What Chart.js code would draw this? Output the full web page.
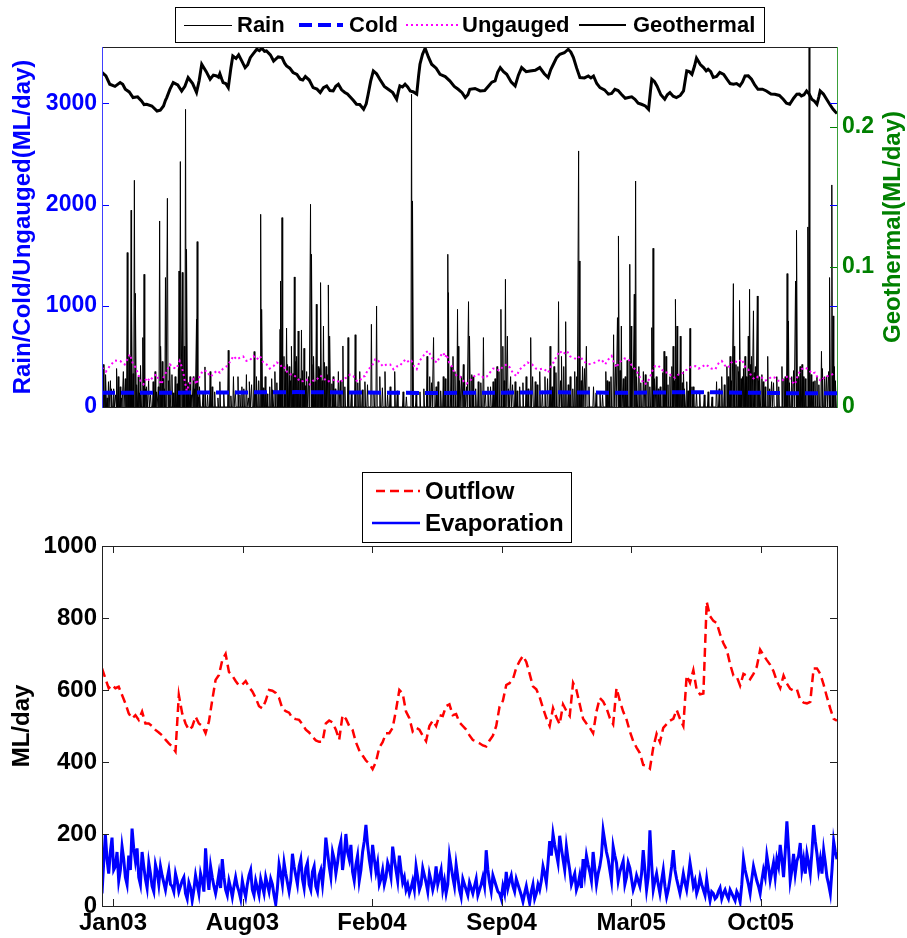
<!DOCTYPE html>
<html>
<head>
<meta charset="utf-8">
<script src="https://cdn.jsdelivr.net/npm/chart.js@4.4.1/dist/chart.umd.min.js"></script>
<style>
  html, body { margin: 0; padding: 0; background: #fff; }
  #wrap { position: relative; width: 907px; height: 938px; }
  canvas { position: absolute; left: 0; }
  #flows { top: 0; }
  #losses { top: 450px; }
</style>
</head>
<body>
<div id="wrap">
  <canvas id="flows" width="907" height="450"></canvas>
  <canvas id="losses" width="907" height="488"></canvas>
</div>
<script>
'use strict';

// Daily water balance, Jan 2003 - Feb 2006. x is days since 1 Jan 2003.
const DAY_SPAN = 1135;
const TICK_DAYS   = [17, 217, 417, 617, 817, 1017];
const TICK_LABELS = ['Jan03', 'Aug03', 'Feb04', 'Sep04', 'Mar05', 'Oct05'];
const FLOW_TICKS  = [0, 1000, 2000, 3000];
const GEO_TICKS   = [0, 0.1, 0.2];
const LOSS_TICKS  = [0, 200, 400, 600, 800, 1000];

const FONT  = "'Liberation Sans', Arial, Helvetica, sans-serif";
const BLUE  = '#0000ff', GREEN = '#008000', MAGENTA = '#ff00ff', RED = '#ff0000';

// ── Inflows (top panel) ─────────────────────────────────────────────────
// rain: storm days and their runoff (ML/day)
const rainDay = [
  2, 10, 18, 25, 33, 39, 42, 45, 46, 50, 52, 56, 63, 65, 69, 79, 84, 89, 91, 95,
  98, 101, 105, 113, 119, 121, 124, 127, 129, 131, 136, 146, 147, 151, 159, 167, 174, 182, 195, 203,
  210, 216, 223, 228, 235, 239, 245, 247, 252, 259, 267, 275, 276, 278, 281, 285, 289, 293, 297, 301,
  303, 308, 312, 316, 322, 324, 327, 331, 334, 338, 342, 346, 350, 352, 357, 365, 372, 380, 391, 398,
  406, 416, 424, 429, 437, 445, 452, 465, 478, 480, 491, 502, 506, 512, 519, 527, 534, 535, 539, 542,
  549, 550, 555, 560, 566, 568, 573, 581, 589, 596, 604, 610, 616, 619, 623, 626, 631, 638, 645, 655,
  662, 669, 676, 684, 692, 698, 705, 710, 716, 723, 730, 736, 737, 742, 748, 759, 769, 778, 783, 790,
  796, 798, 802, 808, 815, 817, 822, 824, 829, 836, 843, 849, 851, 856, 862, 868, 871, 877, 882, 886,
  888, 893, 898, 903, 908, 913, 923, 936, 949, 957, 965, 970, 975, 976, 982, 985, 989, 993, 998, 1000,
  1003, 1006, 1009, 1012, 1016, 1021, 1028, 1034, 1042, 1050, 1055, 1058, 1060, 1065, 1071, 1073, 1078, 1083, 1090, 1092,
  1098, 1104, 1111, 1116, 1124, 1127, 1129, 1131
];
const rainFlow = [
  420, 250, 180, 300, 350, 1526, 500, 1944, 982, 2240, 1123, 300, 686, 1311, 200, 250, 150, 1838, 600, 300,
  1279, 2062, 400, 300, 1344, 2425, 1330, 600, 2941, 1558, 300, 867, 1634, 200, 396, 350, 150, 250, 560, 300,
  300, 200, 320, 250, 548, 300, 1904, 965, 300, 200, 350, 768, 1245, 1871, 500, 780, 400, 600, 1285, 500,
  751, 761, 580, 350, 2003, 1509, 500, 1015, 400, 1229, 800, 400, 1206, 700, 300, 350, 603, 686, 714, 350,
  250, 817, 998, 300, 350, 200, 350, 150, 3090, 2036, 150, 500, 300, 686, 250, 300, 1509, 1130, 400, 500,
  965, 600, 300, 250, 1041, 700, 300, 250, 686, 200, 250, 400, 965, 600, 1262, 700, 300, 250, 200, 300,
  686, 250, 350, 300, 600, 400, 1041, 500, 843, 300, 350, 2530, 1443, 400, 600, 200, 150, 350, 250, 714,
  883, 1690, 800, 300, 1410, 800, 1114, 2233, 400, 350, 250, 784, 1568, 300, 200, 550, 500, 300, 600, 1064,
  800, 700, 350, 250, 777, 200, 150, 150, 250, 300, 400, 500, 1219, 600, 400, 1054, 300, 500, 700, 1163,
  500, 950, 400, 1097, 300, 250, 500, 250, 300, 400, 300, 1318, 850, 300, 1245, 1746, 400, 300, 1779, 3900,
  250, 300, 550, 300, 1279, 2194, 900, 400
];
// lighter rain days filling the base of the record
const showerDay = [
  4, 6, 8, 13, 15, 21, 23, 28, 30, 36, 41, 48, 54, 58, 60, 67, 72, 75, 82, 87,
  93, 97, 103, 108, 110, 116, 118, 126, 133, 138, 141, 143, 149, 156, 163, 170, 179, 188, 199, 206,
  213, 219, 226, 231, 237, 242, 249, 255, 262, 264, 270, 272, 283, 287, 291, 295, 299, 306, 310, 314,
  319, 326, 329, 336, 340, 344, 348, 355, 360, 368, 375, 385, 395, 402, 410, 420, 433, 441, 456, 470,
  485, 497, 509, 516, 523, 530, 545, 552, 558, 563, 571, 577, 585, 592, 600, 607, 613, 621, 628, 634,
  641, 650, 658, 665, 672, 680, 688, 695, 701, 708, 713, 720, 727, 733, 740, 745, 752, 763, 773, 780,
  786, 793, 800, 805, 811, 819, 826, 832, 839, 846, 853, 859, 866, 874, 880, 884, 890, 896, 900, 905,
  911, 918, 930, 942, 953, 961, 967, 972, 979, 983, 987, 991, 995, 1002, 1007, 1014, 1019, 1024, 1031, 1037,
  1045, 1053, 1062, 1068, 1075, 1081, 1086, 1095, 1101, 1107, 1113, 1119, 1122, 1133
];
const showerFlow = [
  150, 320, 90, 260, 180, 120, 380, 200, 90, 280, 160, 330, 220, 140, 410, 180, 260, 120, 350, 200,
  450, 180, 260, 320, 140, 230, 380, 170, 240, 120, 300, 180, 100, 150, 120, 200, 90, 140, 110, 160,
  120, 180, 90, 220, 140, 260, 190, 130, 280, 170, 240, 150, 350, 420, 260, 330, 450, 280, 360, 210,
  300, 420, 250, 380, 260, 440, 320, 230, 180, 260, 200, 150, 240, 170, 220, 130, 190, 120, 160, 100,
  120, 180, 240, 200, 160, 280, 350, 260, 420, 200, 320, 180, 240, 150, 200, 280, 350, 260, 180, 220,
  160, 240, 180, 300, 220, 160, 280, 200, 340, 260, 400, 220, 180, 300, 260, 380, 200, 140, 120, 260,
  300, 420, 360, 280, 460, 380, 300, 240, 320, 200, 280, 180, 340, 220, 400, 260, 320, 240, 180, 160,
  200, 140, 120, 100, 180, 220, 300, 260, 420, 350, 280, 380, 300, 420, 340, 260, 320, 200, 180, 240,
  200, 280, 240, 360, 300, 420, 280, 320, 260, 220, 380, 300, 350, 260
];

const coldDay  = [0, 50, 100, 150, 200, 250, 300, 350, 400, 450, 500, 550, 600, 650, 700, 750, 800, 850, 900, 950, 1000, 1050, 1100, 1135];
const coldFlow = [142, 140, 141, 143, 142, 146, 147, 145, 143, 141, 139, 140, 141, 143, 145, 143, 141, 143, 146, 145, 141, 137, 136, 136];

const ungDay = [
  0, 12, 28, 43, 48, 56, 64, 74, 84, 92, 100, 110, 120, 126, 131, 138, 146, 151, 162, 172,
  182, 193, 203, 213, 223, 234, 244, 254, 265, 275, 283, 290, 301, 311, 321, 332, 342, 352, 368, 378,
  388, 398, 406, 414, 422, 429, 440, 450, 460, 470, 478, 486, 496, 504, 517, 527, 532, 540, 548, 558,
  568, 579, 589, 599, 609, 620, 630, 640, 651, 664, 676, 689, 697, 707, 718, 728, 738, 751, 766, 777,
  787, 795, 802, 813, 823, 831, 838, 846, 854, 864, 875, 885, 895, 905, 916, 926, 936, 947, 957, 967,
  977, 988, 998, 1008, 1019, 1029, 1039, 1050, 1060, 1070, 1080, 1091, 1101, 1111, 1122, 1132
];
const ungauged = [
  389, 405, 455, 521, 422, 323, 224, 257, 323, 224, 356, 389, 455, 323, 158, 257, 224, 306, 356, 323,
  340, 405, 504, 488, 455, 504, 504, 422, 405, 422, 389, 323, 290, 257, 224, 274, 290, 257, 240, 290,
  306, 257, 306, 389, 472, 438, 422, 373, 405, 472, 455, 373, 504, 554, 438, 537, 521, 405, 306, 257,
  257, 323, 290, 340, 373, 405, 389, 306, 405, 422, 373, 340, 438, 554, 554, 488, 504, 422, 455, 422,
  504, 389, 455, 472, 373, 290, 224, 290, 405, 373, 340, 290, 323, 373, 405, 389, 405, 373, 455, 389,
  455, 472, 373, 274, 290, 274, 290, 257, 306, 224, 373, 373, 340, 257, 306, 340
];
// in-between ungauged readings (the record jumps day to day)
const ungDayB = [
  6, 20, 35, 45, 52, 60, 69, 79, 88, 96, 105, 115, 123, 128, 134, 142, 148, 156, 167, 177,
  187, 198, 208, 218, 228, 239, 249, 259, 270, 279, 286, 295, 306, 316, 326, 337, 347, 360, 373, 383,
  393, 402, 410, 418, 425, 434, 445, 455, 465, 474, 482, 491, 500, 510, 522, 530, 536, 544, 553, 563,
  574, 584, 594, 604, 614, 625, 635, 645, 657, 670, 682, 693, 702, 712, 723, 733, 744, 758, 771, 782,
  791, 798, 807, 818, 827, 834, 842, 850, 859, 869, 880, 890, 900, 910, 921, 931, 941, 952, 962, 972,
  982, 993, 1003, 1013, 1024, 1034, 1044, 1055, 1065, 1075, 1085, 1096, 1106, 1116, 1127
];
const ungaugedB = [
  350, 460, 420, 480, 390, 250, 290, 300, 260, 310, 420, 380, 400, 250, 220, 280, 270, 360, 300, 360,
  380, 450, 470, 500, 460, 470, 440, 380, 440, 380, 340, 320, 250, 270, 260, 310, 250, 270, 280, 320,
  260, 300, 360, 420, 470, 400, 420, 400, 450, 440, 400, 460, 540, 480, 500, 490, 440, 340, 300, 230,
  300, 320, 300, 380, 360, 420, 330, 370, 440, 380, 380, 400, 500, 520, 500, 470, 450, 430, 470, 470,
  430, 440, 480, 410, 340, 260, 240, 360, 410, 340, 300, 320, 360, 400, 380, 420, 380, 430, 410, 440,
  440, 400, 300, 300, 260, 300, 260, 290, 250, 320, 390, 330, 280, 300, 320
];

const geoDay = [
  0, 12, 28, 36, 48, 61, 69, 85, 95, 100, 110, 123, 133, 146, 154, 167, 177, 182, 187, 195,
  202, 211, 221, 229, 239, 247, 254, 265, 278, 285, 295, 306, 314, 326, 337, 347, 357, 365, 375, 383,
  393, 404, 411, 419, 429, 442, 455, 460, 468, 476, 486, 491, 499, 509, 522, 537, 550, 561, 568, 584,
  597, 607, 615, 625, 638, 648, 661, 676, 689, 697, 707, 720, 728, 738, 751, 759, 769, 782, 792, 802,
  813, 823, 833, 844, 849, 857, 869, 877, 887, 898, 903, 911, 918, 929, 936, 944, 954, 965, 975, 985,
  993, 1003, 1013, 1026, 1039, 1052, 1062, 1073, 1080, 1088, 1096, 1104, 1109, 1119, 1129, 1135
];
const geothermal = [
  0.2389, 0.2305, 0.2317, 0.2269, 0.2210, 0.2186, 0.2162, 0.2114, 0.2150, 0.2210, 0.2317, 0.2257, 0.2353, 0.2246, 0.2448, 0.2341, 0.2364, 0.2380, 0.2317, 0.2281,
  0.2507, 0.2515, 0.2424, 0.2495, 0.2555, 0.2562, 0.2543, 0.2471, 0.2495, 0.2436, 0.2389, 0.2341, 0.2360, 0.2281, 0.2246, 0.2293, 0.2257, 0.2305, 0.2246, 0.2215,
  0.2162, 0.2126, 0.2234, 0.2400, 0.2341, 0.2269, 0.2198, 0.2293, 0.2305, 0.2257, 0.2234, 0.2448, 0.2562, 0.2448, 0.2376, 0.2329, 0.2269, 0.2210, 0.2269, 0.2257,
  0.2293, 0.2329, 0.2424, 0.2376, 0.2293, 0.2424, 0.2400, 0.2424, 0.2353, 0.2448, 0.2519, 0.2555, 0.2495, 0.2353, 0.2364, 0.2364, 0.2281, 0.2234, 0.2269, 0.2234,
  0.2210, 0.2198, 0.2162, 0.2126, 0.2341, 0.2293, 0.2198, 0.2246, 0.2210, 0.2257, 0.2400, 0.2376, 0.2491, 0.2424, 0.2412, 0.2353, 0.2389, 0.2341, 0.2305, 0.2293,
  0.2364, 0.2341, 0.2269, 0.2257, 0.2234, 0.2198, 0.2162, 0.2234, 0.2222, 0.2257, 0.2198, 0.2162, 0.2257, 0.2198, 0.2126, 0.2096
];
// in-between geothermal readings
const geoDayB = [
  6, 20, 32, 42, 55, 65, 77, 90, 98, 105, 117, 128, 140, 150, 161, 172, 180, 185, 191, 199,
  207, 216, 225, 234, 243, 251, 260, 272, 282, 290, 301, 310, 320, 332, 342, 352, 361, 370, 379, 388,
  398, 408, 415, 424, 436, 449, 458, 464, 472, 481, 489, 495, 504, 516, 530, 544, 556, 565, 576, 591,
  602, 611, 620, 632, 643, 655, 669, 683, 693, 702, 714, 724, 733, 745, 755, 764, 776, 787, 797, 808,
  818, 828, 839, 847, 853, 863, 873, 882, 893, 901, 907, 915, 924, 933, 940, 949, 960, 970, 980, 989,
  998, 1008, 1020, 1033, 1046, 1057, 1068, 1077, 1084, 1092, 1100, 1107, 1114, 1124, 1132
];
const geothermalB = [
  0.2365, 0.2290, 0.2305, 0.2250, 0.2215, 0.2160, 0.2150, 0.2120, 0.2190, 0.2270, 0.2300, 0.2290, 0.2310, 0.2330, 0.2395, 0.2370, 0.2355, 0.2340, 0.2310, 0.2420,
  0.2490, 0.2470, 0.2445, 0.2525, 0.2545, 0.2540, 0.2515, 0.2500, 0.2455, 0.2420, 0.2375, 0.2335, 0.2335, 0.2270, 0.2280, 0.2260, 0.2290, 0.2265, 0.2235, 0.2190,
  0.2160, 0.2165, 0.2330, 0.2380, 0.2290, 0.2245, 0.2260, 0.2285, 0.2285, 0.2250, 0.2370, 0.2520, 0.2500, 0.2420, 0.2360, 0.2290, 0.2245, 0.2230, 0.2275, 0.2260,
  0.2320, 0.2390, 0.2395, 0.2320, 0.2370, 0.2395, 0.2405, 0.2380, 0.2410, 0.2495, 0.2530, 0.2535, 0.2420, 0.2350, 0.2350, 0.2310, 0.2265, 0.2240, 0.2260, 0.2205,
  0.2215, 0.2170, 0.2150, 0.2260, 0.2325, 0.2230, 0.2230, 0.2220, 0.2225, 0.2345, 0.2395, 0.2435, 0.2445, 0.2400, 0.2395, 0.2360, 0.2375, 0.2310, 0.2310, 0.2320,
  0.2365, 0.2300, 0.2270, 0.2235, 0.2225, 0.2170, 0.2205, 0.2235, 0.2230, 0.2235, 0.2185, 0.2215, 0.2235, 0.2160, 0.2110
];

// ── Losses (bottom panel) ───────────────────────────────────────────────
// outflow sampled every ~5.2 days
const outflow = [
  660, 632, 605, 614, 605, 609, 586, 563, 535, 521,
  530, 517, 540, 507, 507, 500, 489, 482, 474, 462,
  452, 443, 429, 586, 535, 507, 489, 498, 526, 507,
  500, 480, 512, 572, 628, 642, 683, 700, 650, 640,
  625, 612, 615, 625, 608, 596, 578, 555, 549, 570,
  600, 598, 592, 578, 548, 541, 537, 522, 519, 517,
  505, 490, 482, 470, 460, 456, 456, 507, 515, 510,
  490, 462, 530, 520, 500, 489, 455, 432, 418, 404,
  395, 380, 400, 440, 455, 480, 480, 495, 544, 600,
  590, 540, 522, 485, 495, 490, 473, 458, 500, 515,
  500, 530, 528, 555, 560, 530, 533, 510, 500, 490,
  474, 461, 457, 452, 446, 443, 460, 473, 500, 554,
  570, 614, 619, 630, 662, 680, 695, 678, 645, 610,
  602, 580, 550, 522, 500, 550, 524, 505, 560, 542,
  528, 620, 600, 560, 520, 507, 495, 480, 540, 578,
  568, 550, 522, 505, 605, 570, 540, 518, 485, 458,
  440, 425, 392, 390, 382, 440, 478, 455, 495, 505,
  515, 520, 545, 520, 500, 640, 620, 655, 600, 588,
  590, 845, 805, 792, 786, 755, 730, 712, 672, 640,
  637, 612, 645, 640, 630, 645, 665, 712, 697, 683,
  670, 652, 625, 605, 640, 618, 603, 598, 602, 572,
  565, 563, 567, 660, 660, 645, 615, 580, 548, 520, 515
];
// evaporation sampled every ~2.6 days
const evaporation = [
  35, 120, 200, 130, 90, 150, 190, 100, 110, 150, 70, 100, 165, 130, 80, 60, 140, 100, 215, 160,
  125, 160, 80, 60, 150, 110, 75, 50, 120, 90, 55, 40, 115, 95, 60, 110, 85, 65, 45, 75,
  100, 60, 55, 40, 90, 70, 40, 55, 70, 80, 35, 20, 65, 50, 15, 45, 85, 60, 35, 90,
  70, 40, 160, 90, 45, 110, 80, 55, 35, 60, 90, 50, 130, 80, 45, 30, 70, 50, 25, 55,
  80, 55, 40, 20, 70, 45, 25, 60, 85, 100, 45, 30, 70, 50, 30, 75, 55, 35, 80, 60,
  40, 75, 60, 30, 5, 50, 115, 90, 60, 120, 90, 65, 40, 70, 145, 110, 85, 60, 110, 130,
  75, 50, 105, 120, 60, 45, 95, 110, 55, 40, 85, 100, 60, 110, 190, 150, 110, 80, 150, 130,
  90, 120, 160, 180, 100, 140, 200, 150, 130, 170, 95, 70, 115, 140, 70, 100, 150, 180, 225, 170,
  130, 100, 170, 130, 95, 120, 60, 75, 100, 60, 80, 120, 105, 80, 165, 130, 100, 70, 140, 100,
  65, 80, 45, 60, 35, 50, 70, 45, 110, 80, 45, 60, 105, 85, 65, 40, 90, 70, 45, 65,
  110, 60, 80, 100, 45, 70, 35, 60, 140, 110, 80, 55, 115, 80, 45, 25, 75, 60, 45, 30,
  65, 50, 35, 55, 75, 30, 45, 60, 80, 55, 155, 100, 65, 40, 85, 70, 55, 40, 35, 20,
  55, 35, 95, 50, 70, 85, 55, 40, 75, 60, 45, 30, 12, 35, 55, 30, 8, 40, 60, 20,
  35, 60, 45, 70, 110, 90, 65, 120, 180, 140, 200, 170, 145, 120, 195, 160, 130, 100, 165, 130,
  100, 60, 75, 90, 45, 60, 85, 50, 130, 90, 140, 115, 95, 70, 150, 105, 60, 90, 110, 140,
  210, 180, 150, 130, 100, 70, 165, 140, 120, 70, 95, 110, 125, 60, 80, 120, 105, 75, 45, 60,
  85, 70, 55, 90, 155, 100, 45, 80, 210, 120, 45, 70, 90, 60, 35, 70, 100, 55, 25, 45,
  75, 110, 155, 100, 75, 55, 35, 60, 90, 65, 45, 80, 120, 90, 55, 70, 35, 50, 80, 60,
  45, 30, 75, 40, 15, 40, 35, 20, 25, 40, 50, 20, 35, 45, 30, 20, 45, 35, 25, 15,
  40, 30, 12, 60, 130, 100, 80, 60, 35, 75, 110, 90, 70, 55, 35, 70, 100, 80, 140, 110,
  70, 95, 120, 80, 130, 110, 170, 130, 80, 150, 235, 160, 70, 100, 145, 90, 125, 140, 175, 100,
  130, 90, 145, 120, 90, 150, 225, 180, 145, 100, 130, 90, 155, 120, 80, 60, 35, 100, 180, 150, 130
];

// ── helpers ─────────────────────────────────────────────────────────────
const pairs  = (xs, ys) => xs.map((x, i) => ({x, y: ys[i]}));
const merged = (...sets) => [].concat(...sets).sort((a, b) => a.x - b.x);
const evenly = ys => ys.map((y, i) => ({x: i * DAY_SPAN / (ys.length - 1), y}));
// each wet day drawn as a one-day rise and fall back to zero
const spikes = pts => pts.flatMap(p => [{x: p.x - 1, y: 0}, p, {x: p.x + 1, y: 0}]);
const bold   = size => ({family: FONT, size, weight: 'bold'});
const fixedTicks = values => s => { s.ticks = values.map(value => ({value})); };
const noGrid = {display: false, drawTicks: false};

const line = (label, data, color, width, extra) => Object.assign({
  label, data, borderColor: color, backgroundColor: color, borderWidth: width,
  pointRadius: 0, tension: 0, fill: false,
}, extra || {});

function drawLegend(ctx, box, items, size) {
  ctx.save();
  ctx.fillStyle = '#fff';
  ctx.fillRect(box.x, box.y, box.w, box.h);
  ctx.strokeStyle = '#000';
  ctx.lineWidth = 1;
  ctx.strokeRect(box.x + 0.5, box.y + 0.5, box.w, box.h);
  ctx.font = 'bold ' + size + 'px ' + FONT;
  ctx.textBaseline = 'middle';
  for (const it of items) {
    ctx.beginPath();
    ctx.setLineDash(it.dash || []);
    ctx.strokeStyle = it.color;
    ctx.lineWidth = it.width;
    ctx.moveTo(it.x0, it.y);
    ctx.lineTo(it.x1, it.y);
    ctx.stroke();
    ctx.setLineDash([]);
    ctx.fillStyle = '#000';
    ctx.fillText(it.label, it.tx, it.ty);
  }
  ctx.restore();
}

// short inward tick marks
function innerYTicks(ctx, scale, area, color, sides) {
  ctx.strokeStyle = color;
  ctx.lineWidth = 1;
  for (const t of scale.ticks) {
    const py = Math.round(scale.getPixelForValue(t.value)) + 0.5;
    ctx.beginPath();
    if (sides.includes('left'))  { ctx.moveTo(area.left, py);  ctx.lineTo(area.left + 7, py); }
    if (sides.includes('right')) { ctx.moveTo(area.right - 7, py); ctx.lineTo(area.right, py); }
    ctx.stroke();
  }
}

function innerXTicks(ctx, scale, area, color) {
  ctx.strokeStyle = color;
  ctx.lineWidth = 1;
  for (const t of scale.ticks) {
    const px = Math.round(scale.getPixelForValue(t.value)) + 0.5;
    ctx.beginPath();
    ctx.moveTo(px, area.top); ctx.lineTo(px, area.top + 7);
    ctx.moveTo(px, area.bottom - 7); ctx.lineTo(px, area.bottom);
    ctx.stroke();
  }
}

function hLine(ctx, x0, x1, y, color) {
  ctx.strokeStyle = color; ctx.beginPath();
  ctx.moveTo(x0, Math.round(y) + 0.5); ctx.lineTo(x1, Math.round(y) + 0.5); ctx.stroke();
}
function vLine(ctx, x, y0, y1, color) {
  ctx.strokeStyle = color; ctx.beginPath();
  ctx.moveTo(Math.round(x) + 0.5, y0); ctx.lineTo(Math.round(x) + 0.5, y1); ctx.stroke();
}

const xDays = (display, height) => ({
  type: 'linear', min: 0, max: DAY_SPAN, display,
  grid: noGrid, border: {display: false},
  afterBuildTicks: fixedTicks(TICK_DAYS),
  ticks: {
    color: '#000', font: bold(24), padding: 3, maxRotation: 0, autoSkip: false,
    callback: v => TICK_LABELS[TICK_DAYS.indexOf(v)],
  },
  afterFit: s => { s.height = height; },
});

const common = {
  responsive: false,
  animation: false,
  devicePixelRatio: 1,
  events: [],
};

// ── Top: inflows with geothermal on its own axis ────────────────────────
const flowsFrame = {
  id: 'flowsFrame',
  afterDraw(chart) {
    const {ctx, chartArea: a, scales} = chart;
    ctx.save();
    ctx.lineWidth = 1;
    innerYTicks(ctx, scales.y, a, BLUE, ['left', 'right']);
    innerYTicks(ctx, scales.y1, a, GREEN, ['right']);
    hLine(ctx, a.left, a.right + 1, a.top, '#222');
    hLine(ctx, a.left, a.right + 1, a.bottom, '#222');
    vLine(ctx, a.left, a.top, a.bottom + 1, '#4040ff');
    vLine(ctx, a.right, a.top, a.bottom + 1, '#3aa03a');

    // right-hand title reads bottom to top
    ctx.save();
    ctx.translate(893, (a.top + a.bottom) / 2);
    ctx.rotate(-Math.PI / 2);
    ctx.font = 'bold 24px ' + FONT;
    ctx.fillStyle = GREEN;
    ctx.textAlign = 'center';
    ctx.textBaseline = 'middle';
    ctx.fillText('Geothermal(ML/day)', 0, 0);
    ctx.restore();

    const ds = chart.data.datasets;
    drawLegend(ctx, {x: 175, y: 7, w: 589, h: 35}, [
      {label: ds[0].label, color: '#000',  width: 1, x0: 184, x1: 232, tx: 237, y: 25.5, ty: 26},
      {label: ds[1].label, color: BLUE,    width: 4, dash: [13, 6], x0: 299, x1: 343, tx: 349, y: 25, ty: 26},
      {label: ds[2].label, color: MAGENTA, width: 2, dash: [2, 3], x0: 406, x1: 458, tx: 462, y: 25, ty: 26},
      {label: ds[3].label, color: '#000',  width: 2, x0: 579, x1: 626, tx: 633, y: 25, ty: 26},
    ], 22);
    ctx.restore();
  },
};

new Chart(document.getElementById('flows'), {
  type: 'line',
  data: {
    datasets: [
      line('Rain', spikes(merged(pairs(rainDay, rainFlow), pairs(showerDay, showerFlow))), '#000', 1, {yAxisID: 'y', order: 4}),
      line('Cold', pairs(coldDay, coldFlow), BLUE, 4, {yAxisID: 'y', order: 2, borderDash: [13, 6]}),
      line('Ungauged', merged(pairs(ungDay, ungauged), pairs(ungDayB, ungaugedB)), MAGENTA, 2, {yAxisID: 'y', order: 3, borderDash: [2, 3]}),
      line('Geothermal', merged(pairs(geoDay, geothermal), pairs(geoDayB, geothermalB)), '#000', 3, {yAxisID: 'y1', order: 1}),
    ],
  },
  options: Object.assign({}, common, {
    layout: {padding: {top: 47, bottom: 0, left: 0, right: 0}},
    plugins: {legend: {display: false}, tooltip: {enabled: false}},
    scales: {
      x: xDays(false, 43),
      y: {
        position: 'left', min: 0, max: 3557,
        grid: noGrid, border: {display: false},
        afterBuildTicks: fixedTicks(FLOW_TICKS),
        ticks: {color: BLUE, font: bold(23), padding: 5, callback: v => String(v)},
        title: {display: true, text: 'Rain/Cold/Ungauged(ML/day)', color: BLUE, font: bold(24), padding: {top: 9, bottom: 0}},
        afterFit: s => { s.width = 102; },
      },
      y1: {
        position: 'right', min: 0, max: 0.2571,
        grid: noGrid, border: {display: false},
        afterBuildTicks: fixedTicks(GEO_TICKS),
        ticks: {color: GREEN, font: bold(23), padding: 5, callback: v => String(v)},
        afterFit: s => { s.width = 70; },
      },
    },
  }),
  plugins: [flowsFrame],
});

// ── Bottom: outflow and evaporation ─────────────────────────────────────
const lossesFrame = {
  id: 'lossesFrame',
  afterDraw(chart) {
    const {ctx, chartArea: a, scales} = chart;
    ctx.save();
    ctx.lineWidth = 1;
    innerYTicks(ctx, scales.y, a, '#222', ['left', 'right']);
    innerXTicks(ctx, scales.x, a, '#222');
    hLine(ctx, a.left, a.right + 1, a.top, '#222');
    hLine(ctx, a.left, a.right + 1, a.bottom, '#222');
    vLine(ctx, a.left, a.top, a.bottom + 1, '#222');
    vLine(ctx, a.right, a.top, a.bottom + 1, '#222');

    const ds = chart.data.datasets;
    drawLegend(ctx, {x: 362, y: 22, w: 209, h: 70}, [
      {label: ds[0].label, color: RED,  width: 2.5, dash: [9, 5], x0: 376, x1: 420, tx: 425, y: 41, ty: 42},
      {label: ds[1].label, color: BLUE, width: 2.5, x0: 372, x1: 420, tx: 425, y: 73, ty: 74},
    ], 24);
    ctx.restore();
  },
};

new Chart(document.getElementById('losses'), {
  type: 'line',
  data: {
    datasets: [
      line('Outflow', evenly(outflow), RED, 2.5, {borderDash: [9, 5]}),
      line('Evaporation', evenly(evaporation), BLUE, 3),
    ],
  },
  options: Object.assign({}, common, {
    layout: {padding: {top: 96, bottom: 0, left: 0, right: 70}},
    plugins: {legend: {display: false}, tooltip: {enabled: false}},
    scales: {
      x: xDays(true, 32),
      y: {
        position: 'left', min: 0, max: 1000,
        grid: noGrid, border: {display: false},
        afterBuildTicks: fixedTicks(LOSS_TICKS),
        ticks: {color: '#000', font: bold(24), padding: 5, callback: v => String(v)},
        title: {display: true, text: 'ML/day', color: '#000', font: bold(24), padding: {top: 8, bottom: 0}},
        afterFit: s => { s.width = 102; },
      },
    },
  }),
  plugins: [lossesFrame],
});
</script>
</body>
</html>
